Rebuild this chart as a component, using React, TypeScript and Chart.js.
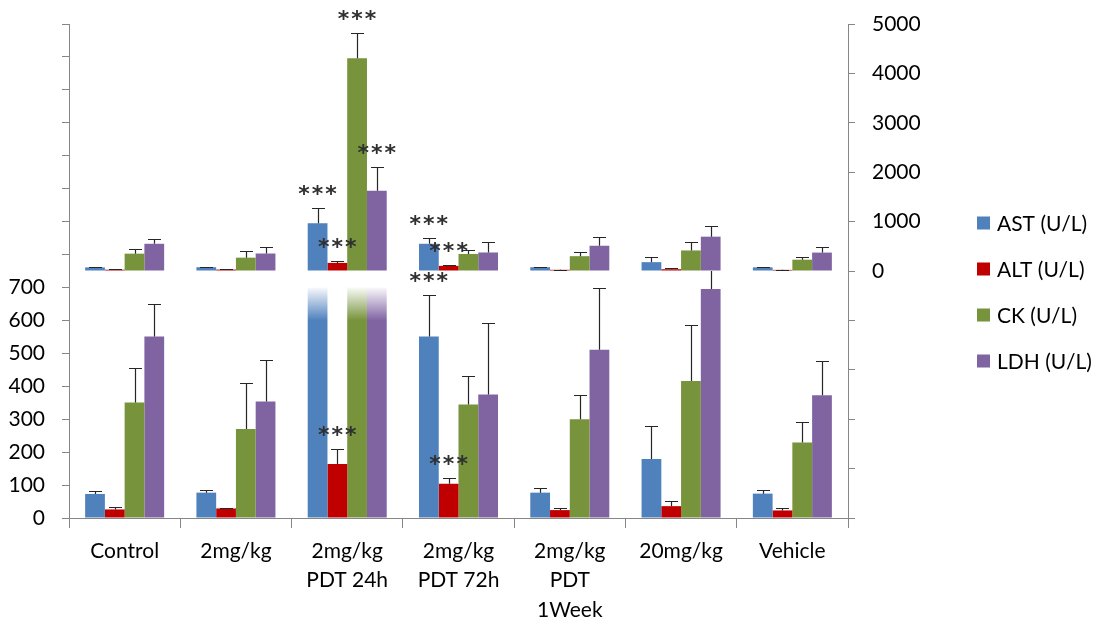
import React, { useEffect, useRef } from 'react';
import { Chart, registerables } from 'chart.js';

Chart.register(...registerables);

// ---------- data ----------
const categories: string[][] = [
  ['Control'],
  ['2mg/kg'],
  ['2mg/kg', 'PDT 24h'],
  ['2mg/kg', 'PDT 72h'],
  ['2mg/kg', 'PDT', '1Week'],
  ['20mg/kg'],
  ['Vehicle'],
];

const seriesNames = ['AST (U/L)', 'ALT (U/L)', 'CK (U/L)', 'LDH (U/L)'];
const seriesColors = ['#4F81BD', '#C00000', '#77933C', '#8064A2'];

const astMean = [73, 77, 966, 551, 77, 179, 74];
const altMean = [26, 29, 164, 104, 24, 36, 23];
const ckMean = [351, 270, 4307, 345, 300, 416, 229];
const ldhMean = [551, 354, 1627, 375, 511, 695, 373];

const astErr = [10, 9, 316, 126, 13, 101, 12];
const altErr = [6, 2, 47, 16, 5, 17, 6];
const ckErr = [104, 141, 511, 87, 75, 169, 61];
const ldhErr = [98, 126, 473, 218, 186, 223, 105];

// lower (left) axis: 0..1500 step 100, labelled up to 700
const lowerMax = 1500;
const lowerStep = 100;
const lowerLabelMax = 700;
const fadeStart = 600;
// upper (right) axis: -5000..5000 step 1000, labelled from 0
const upperMin = -5000;
const upperMax = 5000;
const upperStep = 1000;

// significance marks: series index, category index, panel
const sigSeries = [0, 1, 2, 3, 0, 1, 1, 0, 1];
const sigCats = [2, 2, 2, 2, 3, 3, 2, 3, 3];
const sigPanels = ['top', 'top', 'top', 'top', 'top', 'top', 'bottom', 'bottom', 'bottom'];
const sigText = '***';

const means = [astMean, altMean, ckMean, ldhMean];
const errs = [astErr, altErr, ckErr, ldhErr];

const FONT = 'Lato';

function hexToRgba(hex: string, a: number) {
  const n = parseInt(hex.slice(1), 16);
  return `rgba(${(n >> 16) & 255},${(n >> 8) & 255},${n & 255},${a})`;
}

const errorBarPlugin = {
  id: 'errorBarsAndMarks',
  afterDatasetsDraw(chart: any) {
    const { ctx, chartArea } = chart;
    const yLow = chart.scales.y;
    const yUp = chart.scales.y2;
    const split = yUp.getPixelForValue(0);
    chart.data.datasets.forEach((ds: any, di: number) => {
      const meta = chart.getDatasetMeta(di);
      const scale = ds.panel === 'bottom' ? yLow : yUp;
      ctx.save();
      ctx.beginPath();
      if (ds.panel === 'bottom') {
        ctx.rect(chartArea.left, split, chartArea.right - chartArea.left, chartArea.bottom - split);
      } else {
        ctx.rect(chartArea.left, 0, chartArea.right - chartArea.left, split);
      }
      ctx.clip();
      ctx.strokeStyle = '#262626';
      ctx.lineWidth = 1.2;
      meta.data.forEach((bar: any, i: number) => {
        const m = means[ds.series][i];
        const e = errs[ds.series][i];
        const x = Math.round(bar.x) + 0.5;
        const y0 = scale.getPixelForValue(m);
        const y1 = Math.round(scale.getPixelForValue(m + e)) + 0.5;
        ctx.beginPath();
        ctx.moveTo(x, y0);
        ctx.lineTo(x, y1);
        ctx.moveTo(x - 6.5, y1);
        ctx.lineTo(x + 6.5, y1);
        ctx.stroke();
      });
      ctx.restore();
    });

    // significance asterisks
    ctx.save();
    ctx.font = 'bold 22px "DejaVu Sans"';
    ctx.fillStyle = '#303030';
    ctx.textAlign = 'center';
    ctx.textBaseline = 'alphabetic';
    (ctx as any).letterSpacing = '2px';
    const mt = ctx.measureText(sigText);
    const half = (mt.actualBoundingBoxAscent - mt.actualBoundingBoxDescent) / 2;
    sigSeries.forEach((s, k) => {
      const c = sigCats[k];
      const bottom = sigPanels[k] === 'bottom';
      const di = bottom ? s : s + 4;
      const bar: any = chart.getDatasetMeta(di).data[c];
      const scale = bottom ? yLow : yUp;
      const capY = scale.getPixelForValue(means[s][c] + errs[s][c]);
      const cy = capY - 18;
      ctx.fillText(sigText, bar.x + 1, cy + half);
    });
    ctx.restore();
  },
};

const sideLegendPlugin = {
  id: 'sideLegend',
  afterDraw(chart: any) {
    const { ctx, chartArea } = chart;
    const x0 = chartArea.right + 129;
    const yStart = 223;
    const gap = 46;
    ctx.save();
    ctx.font = `21px ${FONT}`;
    ctx.textBaseline = 'middle';
    ctx.textAlign = 'left';
    seriesNames.forEach((name, i) => {
      const cy = yStart + i * gap;
      ctx.fillStyle = seriesColors[i];
      ctx.fillRect(x0, cy - 6.5, 13, 13);
      ctx.fillStyle = '#000';
      ctx.fillText(name, x0 + 20, cy + 1);
    });
    ctx.restore();
  },
};

export default function App() {
  const canvasRef = useRef<HTMLCanvasElement | null>(null);

  useEffect(() => {
    const canvas = canvasRef.current;
    if (!canvas) return;

    const bottomSets = means.map((m, i) => ({
      label: seriesNames[i],
      data: m.map((v) => Math.min(v, lowerLabelMax)),
      yAxisID: 'y',
      stack: 's' + i,
      panel: 'bottom',
      series: i,
      backgroundColor: (c: any) => {
        const color = seriesColors[i];
        if (c.type !== 'data') return color;
        const v = m[c.dataIndex];
        if (v <= lowerLabelMax) return color;
        const sc = c.chart.scales && c.chart.scales.y;
        if (!sc) return color;
        const g = c.chart.ctx.createLinearGradient(0, sc.getPixelForValue(lowerLabelMax), 0, sc.getPixelForValue(fadeStart));
        g.addColorStop(0, hexToRgba(color, 0.04));
        g.addColorStop(1, color);
        return g;
      },
    }));
    const topSets = means.map((m, i) => ({
      label: seriesNames[i],
      data: m,
      yAxisID: 'y2',
      stack: 's' + i,
      panel: 'top',
      series: i,
      backgroundColor: seriesColors[i],
    }));

    const axisColor = '#868686';
    const tickFont = { family: FONT, size: 21 };

    const chart = new Chart(canvas, {
      type: 'bar',
      data: {
        labels: categories as any,
        datasets: [...bottomSets, ...topSets] as any,
      },
      options: {
        animation: false,
        responsive: true,
        maintainAspectRatio: false,
        layout: { padding: { top: 24, left: 0, right: 0, bottom: 0 } },
        datasets: {
          bar: { categoryPercentage: 0.71, barPercentage: 1.0, grouped: true },
        },
        plugins: {
          legend: { display: false },
          tooltip: { enabled: false },
          title: { display: false },
        },
        scales: {
          x: {
            grid: { display: true, drawOnChartArea: false, drawTicks: true, tickLength: 10, color: axisColor, offset: true },
            border: { display: true, color: axisColor },
            ticks: { font: { ...tickFont, lineHeight: 1.42 }, color: '#000', padding: 8, maxRotation: 0, autoSkip: false },
            afterFit: (s: any) => { s.height = 110; s.paddingLeft = 0; s.paddingRight = 0; },
          },
          y: {
            position: 'left',
            min: 0,
            max: lowerMax,
            stacked: false,
            grid: { display: true, drawOnChartArea: false, drawTicks: true, tickLength: 7, color: axisColor },
            border: { display: true, color: axisColor },
            ticks: {
              stepSize: lowerStep,
              autoSkip: false,
              font: tickFont,
              color: '#000',
              padding: 17,
              callback: (v: any) => (Number(v) <= lowerLabelMax ? String(v) : ''),
            },
            afterFit: (s: any) => { s.width = 69; s.paddingTop = 0; s.paddingBottom = 0; },
          },
          y2: {
            position: 'right',
            min: upperMin,
            max: upperMax,
            stacked: false,
            grid: { display: true, drawOnChartArea: false, drawTicks: true, tickLength: 7, color: axisColor },
            border: { display: true, color: axisColor },
            ticks: {
              stepSize: upperStep,
              autoSkip: false,
              font: tickFont,
              color: '#000',
              padding: 17,
              callback: (v: any) => (Number(v) >= 0 ? String(v) : ''),
            },
            afterFit: (s: any) => { s.width = 248; s.paddingTop = 0; s.paddingBottom = 0; },
          },
        },
      } as any,
      plugins: [errorBarPlugin, sideLegendPlugin],
    });

    return () => chart.destroy();
  }, []);

  return (
    <div style={{ position: 'fixed', left: 0, top: 0, width: 1096, height: 628, background: '#fff' }}>
      <canvas ref={canvasRef} />
    </div>
  );
}
